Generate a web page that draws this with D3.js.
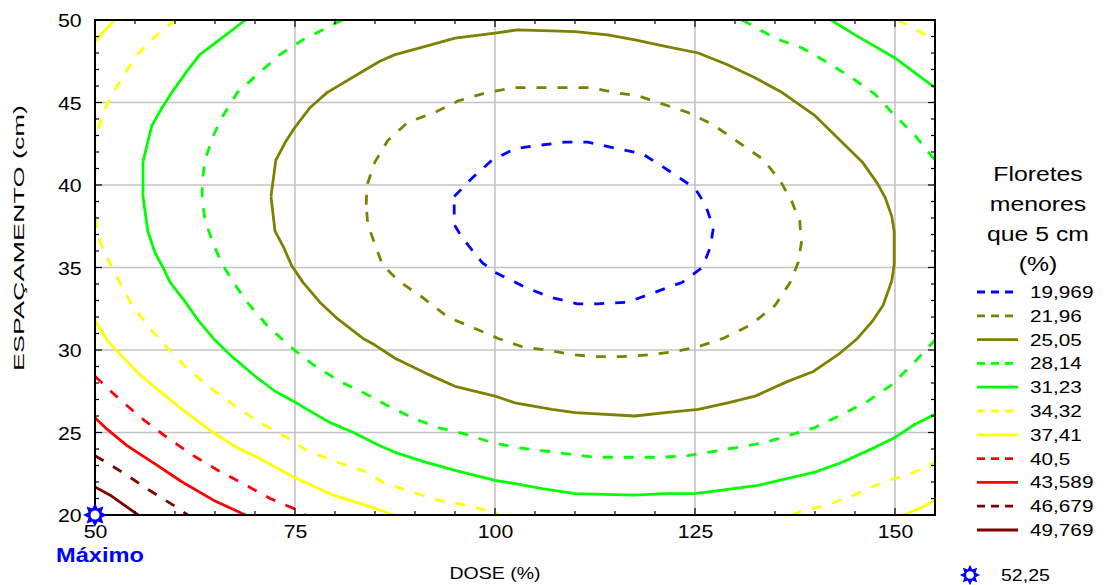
<!DOCTYPE html>
<html><head><meta charset="utf-8">
<script src="https://cdn.jsdelivr.net/npm/d3@7"></script>
<style>
html,body{margin:0;padding:0;background:#fff;}
svg{display:block;font-family:"Liberation Sans",Arial,sans-serif;}
</style></head>
<body>
<svg id="chart" width="1109" height="585"></svg>
<script>
// ---------- data ----------
const xTicks = [50, 75, 100, 125, 150];
const yTicks = [20, 25, 30, 35, 40, 45, 50];
const xLabel = "DOSE (%)";
const yLabel = "ESPAÇAMENTO (cm)";
const legendTitle = ["Floretes", "menores", "que 5 cm", "(%)"];
const levelLabels = ["19,969","21,96","25,05","28,14","31,23","34,32","37,41","40,5","43,589","46,679","49,769"];
const levelValues = [19.969, 21.96, 25.05, 28.14, 31.23, 34.32, 37.41, 40.5, 43.589, 46.679, 49.769];
const maxPoint = [50, 20];
const maxValue = "52,25";
const maxLabel = "Máximo";

// contour polylines [dose, espaçamento]
const c19969 = [[[94.9,39.3],[97.1,40.4],[99.6,41.5],[102.5,42.2],[105.4,42.4],[108.8,42.6],[111.6,42.6],[115.3,42.2],[118.4,41.9],[121.0,41.1],[125.0,39.8],[126.3,38.8],[127.3,37.4],[126.9,36.2],[125.9,35.0],[123.4,34.1],[120.0,33.5],[116.6,32.9],[112.8,32.8],[110.3,32.8],[106.9,33.2],[103.8,33.8],[100.0,34.7],[98.4,35.3],[95.9,36.8],[94.9,37.6],[94.9,39.3]]];
const c21960 = [[[83.9,38.8],[84.0,40.0],[85.0,41.4],[86.6,42.7],[89.1,43.8],[92.5,44.4],[95.4,45.1],[99.0,45.6],[102.5,45.9],[105.9,45.9],[108.8,45.9],[112.1,45.9],[115.0,45.6],[117.9,45.4],[121.0,44.9],[124.1,44.4],[127.1,43.7],[130.4,42.6],[133.4,41.6],[135.6,40.3],[137.1,39.0],[138.1,37.8],[138.3,36.5],[137.9,35.3],[136.9,34.1],[135.0,32.7],[131.9,31.5],[128.5,30.7],[125.4,30.2],[122.5,29.9],[119.1,29.7],[115.9,29.6],[112.5,29.6],[110.0,29.7],[106.3,30.0],[103.4,30.2],[100.4,30.7],[97.5,31.3],[94.1,32.0],[90.9,33.2],[87.9,34.2],[85.9,35.2],[85.0,36.4],[84.1,37.6],[83.9,38.8]]];
const c25050 = [[[72.0,39.3],[72.3,40.4],[72.6,41.5],[73.8,42.6],[75.0,43.5],[76.9,44.7],[79.0,45.6],[82.8,46.7],[85.6,47.5],[87.5,47.9],[91.3,48.4],[95.0,48.9],[100.0,49.2],[102.8,49.4],[110.0,49.3],[114.1,49.1],[117.5,48.8],[121.3,48.4],[125.4,48.0],[129.0,47.3],[132.5,46.5],[135.9,45.6],[140.0,44.2],[143.8,42.4],[145.9,41.4],[147.8,40.1],[148.8,39.2],[149.6,38.1],[149.9,37.2],[149.9,35.2],[149.6,34.2],[148.5,32.7],[147.1,31.7],[145.3,30.7],[143.1,29.8],[139.8,28.7],[136.6,28.1],[132.5,27.2],[129.1,26.8],[125.4,26.4],[121.3,26.2],[117.5,26.0],[110.0,26.2],[107.1,26.4],[102.5,26.8],[100.0,27.2],[95.0,27.8],[91.3,28.6],[87.5,29.5],[85.0,30.3],[83.5,30.7],[80.3,31.9],[78.1,32.9],[76.0,34.1],[74.6,35.1],[73.6,36.2],[72.5,37.2],[72.0,39.3]]];
const c28140 = [
  [[80.9,50],[76.0,48.8],[73.1,47.9],[70.3,46.7],[67.8,45.6],[66.0,44.2],[64.8,43.0],[63.8,41.6],[63.4,40.2],[63.4,39.0],[63.8,37.8],[64.8,36.4],[65.9,35.2],[67.3,34.1],[69.0,32.9],[71.5,31.5],[74.4,30.2],[77.3,29.1],[80.6,28.1],[84.0,27.3],[86.3,26.7],[89.6,25.9],[92.9,25.3],[96.3,24.9],[99.6,24.4],[102.5,24.1],[105.9,23.9],[109.1,23.7],[112.5,23.5],[116.3,23.5],[120.9,23.5],[124.1,23.6],[130.4,24.1],[133.8,24.4],[140.0,25.3],[143.4,26.1],[146.6,26.9],[149.6,27.9],[152.5,29.3],[155.0,30.6]],
  [[130.9,50],[135.0,48.9],[138.4,48.3],[141.3,47.5],[144.6,46.5],[147.5,45.5],[150.0,44.2],[152.5,43.0],[155.0,41.5]]];
const c31230 = [
  [[68.8,50],[65.3,48.7],[63.1,47.9],[61.5,46.9],[59.6,45.6],[58.4,44.7],[57.1,43.6],[56.5,42.4],[56.0,41.4],[56.0,39.3],[56.6,37.2],[57.5,35.9],[58.5,35.0],[59.4,34.1],[61.3,32.9],[62.9,31.8],[64.8,30.7],[66.9,29.7],[69.8,28.5],[72.5,27.5],[74.8,26.9],[76.5,26.4],[79.4,25.6],[82.3,25.0],[85.6,24.2],[87.5,23.8],[91.3,23.2],[95.0,22.7],[100.0,22.1],[102.5,21.9],[105.9,21.6],[110.0,21.3],[117.5,21.2],[121.3,21.3],[125.0,21.3],[132.9,21.8],[140.0,22.6],[143.4,23.2],[147.5,24.1],[150.0,24.7],[152.5,25.5],[155.0,26.1]],
  [[142.0,50],[145.0,49.1],[147.5,48.4],[150.0,47.7],[152.5,46.8],[155.0,45.9]]];
const c34320 = [
  [[60.1,50],[58.5,49.4],[57.3,48.9],[55.3,47.9],[53.5,46.6],[51.9,45.3],[50.9,44.2],[50.3,43.2],[50.0,42.7]],
  [[50.0,38.0],[50.6,36.6],[51.9,35.2],[53.4,33.8],[54.8,32.6],[56.9,31.3],[59.1,30.1],[61.5,28.9],[64.4,27.7],[67.8,26.5],[70.6,25.6],[74.0,24.7],[76.5,23.9],[80.3,23.2],[84.0,22.6],[85.9,22.0],[89.6,21.4],[92.9,20.9],[96.3,20.6],[99.6,20.2],[100.6,20.0]],
  [[137.1,20],[138.1,20.2],[141.5,20.6],[144.8,21.2],[149.0,22.1],[151.6,22.4],[155.0,23.2]],
  [[150.4,50],[154.6,48.9],[155.0,48.7]]];
const c37410 = [
  [[50.0,48.7],[52.4,50]],
  [[50.0,31.8],[51.5,30.6],[53.4,29.6],[55.6,28.5],[58.1,27.5],[60.9,26.4],[63.1,25.6],[64.8,25.0],[67.3,24.2],[70.3,23.5],[74.8,22.3],[79.8,21.2],[83.1,20.7],[85.6,20.3],[87.3,20.0]],
  [[151.0,20],[153.1,20.4],[155.0,20.9]]];
const c40500 = [[[50.0,28.4],[50.9,28.0],[53.1,27.0],[56.0,25.8],[59.0,24.7],[62.3,23.6],[65.4,22.7],[68.5,21.9],[71.9,21.0],[75.3,20.3],[76.3,20.0]]];
const c43589 = [[[50.0,25.9],[51.5,25.2],[54.0,24.2],[57.5,23.1],[60.9,22.0],[64.8,20.9],[68.8,20.0]]];
const c46679 = [[[50.0,23.6],[53.4,22.6],[56.8,21.5],[60.1,20.5],[61.6,20.0]]];
const c49769 = [[[50.0,21.7],[51.9,21.2],[55.4,20.0]]];
const contourSets = [c19969, c21960, c25050, c28140, c31230, c34320, c37410, c40500, c43589, c46679, c49769];

// ---------- styles ----------
const lineColors = ["#0000ff","#808000","#808000","#00ff00","#00ff00","#ffff00","#ffff00","#ff0000","#ff0000","#800000","#800000"];
const lineDashed = [true,true,false,true,false,true,false,true,false,true,false];

const m = {left: 95, right: 935, top: 20, bottom: 515};
const svg = d3.select("#chart");

const x = d3.scaleLinear().domain([50, 155]).range([m.left, m.right]);
const y = d3.scaleLinear().domain([20, 50]).range([m.bottom, m.top]);

// grid
const grid = svg.append("g");
grid.selectAll("line.gx").data(xTicks.filter(d => d > 50)).enter().append("line")
  .attr("x1", d => x(d)).attr("x2", d => x(d)).attr("y1", m.top).attr("y2", m.bottom)
  .attr("stroke", "#c4c4c4").attr("stroke-width", 1.6);
grid.selectAll("line.gy").data(yTicks.filter(d => d > 20 && d < 50)).enter().append("line")
  .attr("y1", d => y(d)).attr("y2", d => y(d)).attr("x1", m.left).attr("x2", m.right)
  .attr("stroke", "#c4c4c4").attr("stroke-width", 1.6);

// contours
svg.append("clipPath").attr("id", "clip").append("rect")
  .attr("x", m.left).attr("y", m.top).attr("width", m.right - m.left).attr("height", m.bottom - m.top);
const line = d3.line().x(d => x(d[0])).y(d => y(d[1]));
const cg = svg.append("g").attr("clip-path", "url(#clip)");
contourSets.forEach((set, i) => {
  set.forEach(seg => {
    cg.append("path").attr("d", line(seg)).attr("fill", "none")
      .attr("stroke", lineColors[i]).attr("stroke-width", 2.8)
      .attr("stroke-linejoin", "round")
      .attr("stroke-dasharray", lineDashed[i] ? "10,11" : null);
  });
});

// axes
function styleAxis(g, sx) {
  g.select(".domain").remove();
  g.selectAll(".tick line").remove();
  g.selectAll(".tick text").attr("fill", "#000").style("font-size", "19px")
   .attr("transform", `scale(${sx},1)`);
}
const xMinor = d3.range(50, 156, 5);
const yMinor = d3.range(20, 51, 1);
// ticks (inward) on all sides
const mt = svg.append("g");
xMinor.forEach(v => {
  const len = xTicks.includes(v) ? 7 : 4;
  mt.append("line").attr("x1", x(v)).attr("x2", x(v)).attr("y1", m.bottom).attr("y2", m.bottom - len).attr("stroke", "#000").attr("stroke-width", 1.2);
  mt.append("line").attr("x1", x(v)).attr("x2", x(v)).attr("y1", m.top).attr("y2", m.top + len).attr("stroke", "#000").attr("stroke-width", 1.2);
});
yMinor.forEach(v => {
  const len = yTicks.includes(v) ? 7 : 4;
  mt.append("line").attr("y1", y(v)).attr("y2", y(v)).attr("x1", m.left).attr("x2", m.left + len).attr("stroke", "#000").attr("stroke-width", 1.2);
  mt.append("line").attr("y1", y(v)).attr("y2", y(v)).attr("x1", m.right).attr("x2", m.right - len).attr("stroke", "#000").attr("stroke-width", 1.2);
});

const gx = svg.append("g").attr("transform", `translate(0,${m.bottom})`)
  .call(d3.axisBottom(x).tickValues(xTicks).tickSize(0).tickPadding(10));
styleAxis(gx, 1.12);
const gy = svg.append("g").attr("transform", `translate(${m.left},0)`)
  .call(d3.axisLeft(y).tickValues(yTicks).tickSize(0).tickPadding(12));
styleAxis(gy, 1.12);
gy.selectAll(".tick text").attr("dy", "0.36em");

// frame
svg.append("rect").attr("x", m.left).attr("y", m.top).attr("width", m.right - m.left).attr("height", m.bottom - m.top)
  .attr("fill", "none").attr("stroke", "#000").attr("stroke-width", 2);

// axis titles
svg.append("g").attr("transform", `translate(${x(100)},579)`)
  .append("text").attr("text-anchor", "middle").style("font-size", "16px")
  .attr("transform", "scale(1.22,1)").text(xLabel);
svg.append("g").attr("transform", `translate(24,238) rotate(-90)`)
  .append("text").attr("text-anchor", "middle").style("font-size", "15px")
  .attr("transform", "scale(1.8,1)").text(yLabel);

// maximum marker
function starPath(r1, r2, n) {
  const pts = [];
  for (let i = 0; i < 2 * n; i++) {
    const a = Math.PI * i / n - Math.PI / 2;
    const r = i % 2 === 0 ? r1 : r2;
    pts.push([Math.cos(a) * r, Math.sin(a) * r]);
  }
  return "M" + pts.map(p => p.join(",")).join("L") + "Z";
}
function drawStar(cx, cy, s) {
  const g = svg.append("g").attr("transform", `translate(${cx},${cy})`);
  g.append("path").attr("d", starPath(12 * s, 7 * s, 8)).attr("fill", "#0000ff");
  g.append("circle").attr("r", 4.5 * s).attr("fill", "#fff");
}
drawStar(x(maxPoint[0]), y(maxPoint[1]), 1);
svg.append("g").attr("transform", `translate(${x(maxPoint[0]) + 5},562)`)
  .append("text").attr("text-anchor", "middle").style("font-size", "20px").style("font-weight", "bold")
  .attr("fill", "#0000ff").attr("transform", "scale(1.18,1)").text(maxLabel);

// legend
const lg = svg.append("g");
legendTitle.forEach((t, i) => {
  lg.append("g").attr("transform", `translate(1038,${181 + i * 30})`)
    .append("text").attr("text-anchor", "middle").style("font-size", "21px")
    .attr("transform", "scale(1.18,1)").text(t);
});
levelLabels.forEach((t, i) => {
  const cy = 292 + i * 23.8;
  lg.append("line").attr("x1", 977).attr("x2", 1018).attr("y1", cy).attr("y2", cy)
    .attr("stroke", lineColors[i]).attr("stroke-width", 2.8)
    .attr("stroke-dasharray", lineDashed[i] ? "8,6" : null);
  lg.append("g").attr("transform", `translate(1030,${cy + 6})`)
    .append("text").style("font-size", "17px").attr("transform", "scale(1.22,1)").text(t);
});
drawStar(970, 575, 0.85);
svg.append("g").attr("transform", "translate(1001,581)")
  .append("text").style("font-size", "17px").attr("transform", "scale(1.15,1)").text(maxValue);
</script>
</body></html>
